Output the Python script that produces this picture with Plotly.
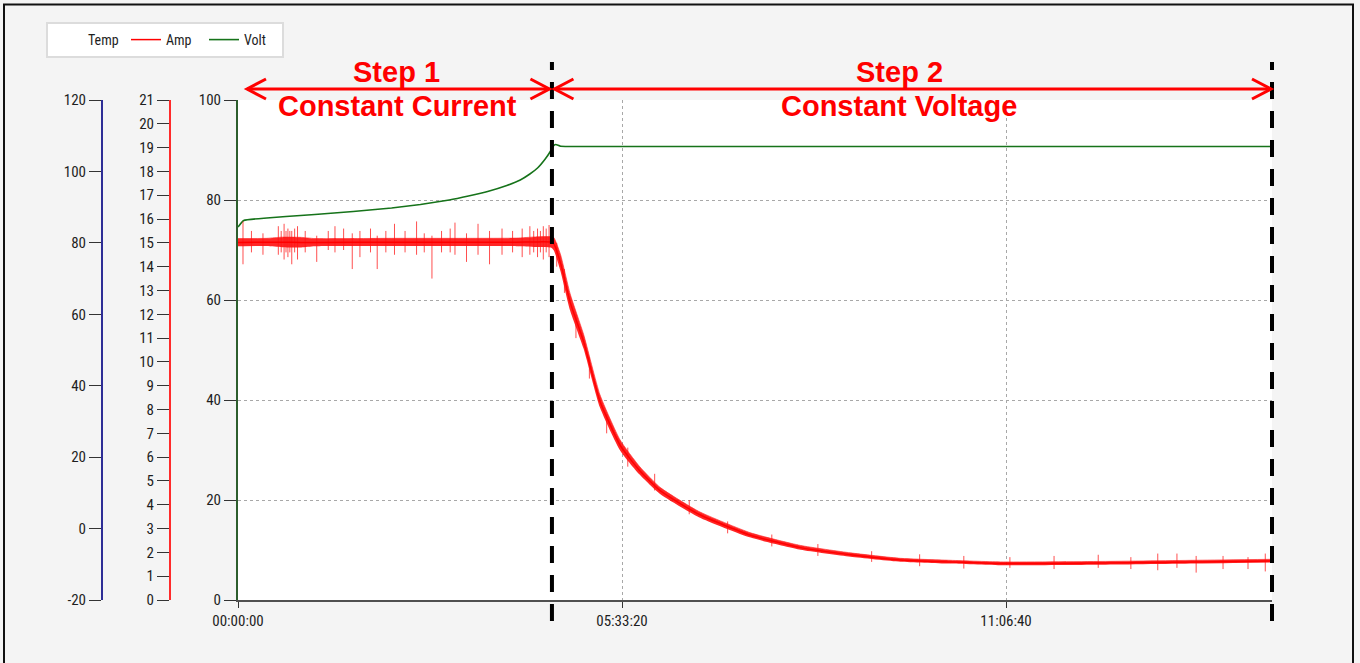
import plotly.graph_objects as go

# ---------------------------------------------------------------- data
# Elapsed charge time in seconds
volt_time = [0, 300, 1500, 2500, 4000, 6000, 8000, 9500, 11000, 12000, 13000,
             14000, 14700, 15200, 15600, 16000, 16300, 16450, 16550, 16800,
             18000, 22000, 26000, 30000, 34000, 38000, 42000, 46000, 50000, 53850]
volt_value = [74.6, 75.9, 76.4, 76.7, 77.1, 77.7, 78.4, 79.1, 80.0, 80.8, 81.7,
              82.9, 84.0, 85.2, 86.4, 88.2, 89.9, 90.9, 91.1, 90.75,
              90.7, 90.7, 90.7, 90.7, 90.7, 90.7, 90.7, 90.7, 90.7, 90.7]

# Charge current: mean level and the spread of the noisy trace around it
amp_time = [0, 1500, 2300, 3300, 4000, 8000, 12000, 14500, 15500, 16300, 16450,
            16800, 17300, 18000, 18850, 19900, 20900, 22000, 24000, 26700, 29300,
            31900, 34500, 37000, 39700, 45000, 50000, 53850]
amp_value = [15.02, 15.03, 15.03, 15.02, 15.02, 15.03, 15.03, 15.03, 15.04, 15.03, 14.95,
             14.15, 12.50, 10.85, 8.35, 6.50, 5.45, 4.58, 3.60, 2.72, 2.20,
             1.90, 1.68, 1.60, 1.53, 1.55, 1.60, 1.64]
amp_high = [15.18, 15.19, 15.24, 15.23, 15.18, 15.19, 15.19, 15.20, 15.25, 15.26, 15.22,
            14.50, 12.85, 11.15, 8.62, 6.72, 5.62, 4.72, 3.72, 2.82, 2.29,
            1.98, 1.75, 1.67, 1.60, 1.62, 1.67, 1.71]
amp_low = [14.86, 14.87, 14.82, 14.81, 14.86, 14.87, 14.87, 14.86, 14.83, 14.80, 14.68,
           13.80, 12.15, 10.55, 8.08, 6.28, 5.28, 4.44, 3.48, 2.62, 2.11,
           1.82, 1.61, 1.53, 1.46, 1.48, 1.53, 1.57]

# Short current spikes (time, lowest, highest)
spike_time = [260, 700, 1300, 2100, 2250, 2400, 2500, 2600, 2700, 2800, 2950, 3100,
              3500, 4100, 4700, 5050, 5500, 5950, 6350, 6900, 7250, 7700, 8150,
              8700, 9300, 9700, 10100, 10600, 11050, 11300, 11900, 12500, 13100,
              13750, 14300, 14800, 15200, 15400, 15600, 15750, 15900, 16050, 16200,
              16600, 17000, 17600, 18300, 19200, 20300, 21700, 23500, 25500, 27800,
              30200, 33000, 35500, 37800, 40200, 42500, 44800, 46500, 47900, 48900,
              49900, 51300, 52600, 53500]
spike_low = [14.1, 14.6, 14.5, 14.5, 14.6, 14.3, 14.6, 14.4, 14.6, 14.1, 14.6, 14.3,
             14.6, 14.2, 14.7, 14.6, 14.7, 13.9, 14.4, 14.6, 13.9, 14.6, 14.5,
             14.6, 14.5, 14.6, 13.5, 14.6, 14.6, 14.5, 14.2, 14.5, 14.1,
             14.5, 14.6, 14.4, 14.5, 14.6, 14.4, 14.6, 14.3, 14.6, 14.4,
             14.0, 12.9, 11.0, 9.3, 7.0, 5.6, 4.6, 3.6, 2.8, 2.25,
             1.85, 1.6, 1.42, 1.32, 1.35, 1.3, 1.35, 1.3, 1.25, 1.35,
             1.15, 1.3, 1.3, 1.2]
spike_high = [15.9, 15.5, 15.4, 15.7, 15.5, 15.8, 15.5, 15.6, 15.5, 15.5, 15.6, 15.7,
              15.5, 15.3, 15.5, 15.7, 15.6, 15.4, 15.5, 15.6, 15.3, 15.5, 15.8,
              15.5, 15.9, 15.4, 15.3, 15.5, 15.6, 15.85, 15.4, 15.8, 15.5,
              15.6, 15.5, 15.6, 15.7, 15.5, 15.6, 15.5, 15.7, 15.6, 15.75,
              15.0, 13.9, 12.0, 10.2, 7.8, 6.4, 5.3, 4.2, 3.3, 2.75,
              2.35, 2.05, 1.92, 1.85, 1.8, 1.85, 1.9, 1.8, 1.95, 1.95,
              1.85, 1.85, 1.8, 1.95]

# Charge phases
t_start = 0
t_cv = 16350      # switch from constant current to constant voltage
t_end = 53850     # end of record

x_tickvals = [0, 20000, 40000]
x_ticktext = ["00:00:00", "05:33:20", "11:06:40"]
temp_tickvals = [-20, 0, 20, 40, 60, 80, 100, 120]
temp_ticktext = ["-20", "0", "20", "40", "60", "80", "100", "120"]

# ---------------------------------------------------------------- layout geometry
W, H = 1360, 663
PLOT_L, PLOT_R, PLOT_T, PLOT_B = 238, 1272, 100, 600
AMP_AXIS_X, TEMP_AXIS_X = 170, 102


def px(x):
    return x / W


def py(y):
    return 1 - y / H


def t_to_px(t):
    return PLOT_L + (t - t_start) / (t_end - t_start) * (PLOT_R - PLOT_L)


TICK_FONT = dict(family="Liberation Sans Narrow, Arial Narrow, Roboto Condensed, Liberation Sans, sans-serif",
                 size=15, color="#1e1e1e")

fig = go.Figure()

fig.add_trace(go.Scatter(x=[None], y=[None], name="Temp", mode="lines",
                         line=dict(color="white", width=2), yaxis="y3"))

fig.add_trace(go.Scatter(x=amp_time, y=amp_low, mode="lines",
                         line=dict(width=0, shape="spline", smoothing=0.5),
                         showlegend=False, hoverinfo="skip", yaxis="y2"))
fig.add_trace(go.Scatter(x=amp_time, y=amp_high, mode="lines",
                         line=dict(width=0.8, color="rgba(255,40,40,0.8)", shape="spline", smoothing=0.5),
                         fill="tonexty", fillcolor="rgba(255,0,0,0.85)",
                         showlegend=False, hoverinfo="skip", yaxis="y2"))

sx, sy = [], []
for t, lo, hi in zip(spike_time, spike_low, spike_high):
    sx += [t, t, None]
    sy += [lo, hi, None]
fig.add_trace(go.Scatter(x=sx, y=sy, mode="lines", line=dict(color="rgba(255,20,20,0.75)", width=1),
                         showlegend=False, hoverinfo="skip", yaxis="y2"))

fig.add_trace(go.Scatter(x=amp_time, y=amp_value, name="Amp", mode="lines",
                         line=dict(color="#ff0000", width=1.5, shape="spline", smoothing=0.5), yaxis="y2"))

fig.add_trace(go.Scatter(x=volt_time, y=volt_value, name="Volt", mode="lines",
                         line=dict(color="#16731a", width=1.6, shape="spline", smoothing=0.4), yaxis="y"))

y_domain = [py(PLOT_B), py(PLOT_T)]
axis_common = dict(ticks="outside", ticklen=12, tickwidth=1, tickcolor="#333333",
                   tickfont=TICK_FONT, showline=True, linewidth=2, zeroline=False,
                   fixedrange=True, automargin=False)

fig.update_layout(
    width=W, height=H,
    margin=dict(l=0, r=0, t=0, b=0, pad=0, autoexpand=False),
    paper_bgcolor="#f4f4f4",
    plot_bgcolor="white",
    showlegend=True,
    hovermode=False,
    legend=dict(orientation="h", x=px(46), y=py(22), xanchor="left", yanchor="top",
                bgcolor="white", bordercolor="#dcdcdc", borderwidth=2,
                font=dict(family=TICK_FONT["family"], size=14, color="#1e1e1e"),
                itemwidth=30, entrywidth=33, traceorder="normal"),
    xaxis=dict(domain=[px(PLOT_L), px(PLOT_R)], range=[t_start, t_end],
               tickvals=x_tickvals, ticktext=x_ticktext, ticks="outside", ticklen=6,
               tickcolor="#333333", tickfont=TICK_FONT, showline=True, linewidth=2,
               linecolor="#505050", showgrid=True, gridcolor="#a8a8a8", griddash="dot",
               gridwidth=1, zeroline=False, fixedrange=True, automargin=False),
    yaxis=dict(domain=y_domain, range=[0, 100], dtick=20, anchor="x",
               linecolor="#2d5e2d", showgrid=True, gridcolor="#a8a8a8", griddash="dot",
               gridwidth=1, **axis_common),
    yaxis2=dict(range=[0, 21], dtick=1, overlaying="y", anchor="free", side="left",
                position=px(AMP_AXIS_X), linecolor="#ff2b2b", showgrid=False, **axis_common),
    yaxis3=dict(range=[-20, 120], tickvals=temp_tickvals, ticktext=temp_ticktext,
                overlaying="y", anchor="free", side="left",
                position=px(TEMP_AXIS_X), linecolor="#2e2e96", showgrid=False, **axis_common),
)

# Outer frame
shapes = [dict(type="rect", xref="paper", yref="paper", x0=px(4), x1=px(1353),
               y0=-0.05, y1=py(4.5), line=dict(color="#111111", width=2), layer="above")]

# Phase boundaries
DASH = dict(color="black", width=4, dash="17px,12px")
for xpix in (t_to_px(t_cv), t_to_px(t_end)):
    shapes.append(dict(type="line", xref="paper", yref="paper", x0=px(xpix), x1=px(xpix),
                       y0=py(621), y1=py(62), line=DASH, layer="above"))

# Double-headed arrows spanning each phase
ARROW_Y = 89
RED = "#ff0000"


def double_arrow(x_left, x_right):
    out = [dict(type="line", xref="paper", yref="paper", x0=px(x_left), x1=px(x_right),
                y0=py(ARROW_Y), y1=py(ARROW_Y), line=dict(color=RED, width=3), layer="above")]
    for tip, d in ((x_left, 1), (x_right, -1)):
        path = (f"M{px(tip + d * 19)},{py(ARROW_Y - 10)} "
                f"L{px(tip)},{py(ARROW_Y)} "
                f"L{px(tip + d * 19)},{py(ARROW_Y + 10)}")
        out.append(dict(type="path", xref="paper", yref="paper", path=path,
                        line=dict(color=RED, width=3), layer="above"))
    return out


cv_px = t_to_px(t_cv)
shapes += double_arrow(t_to_px(t_start) + 9, cv_px - 2.5)
shapes += double_arrow(cv_px + 2.5, t_to_px(t_end) - 1)
fig.update_layout(shapes=shapes)

LABEL_FONT = dict(family="Liberation Sans, Arial, sans-serif", size=29, color=RED)
labels = [("<b>Step 1</b>", 396, 72), ("<b>Constant Current</b>", 397, 106),
          ("<b>Step 2</b>", 899, 72), ("<b>Constant Voltage</b>", 899, 106)]
for text, xpix, ypix in labels:
    fig.add_annotation(text=text, xref="paper", yref="paper", x=px(xpix), y=py(ypix),
                       xanchor="center", yanchor="middle", showarrow=False, font=LABEL_FONT)

fig.write_html("out.html", config={"displayModeBar": False, "staticPlot": True})
